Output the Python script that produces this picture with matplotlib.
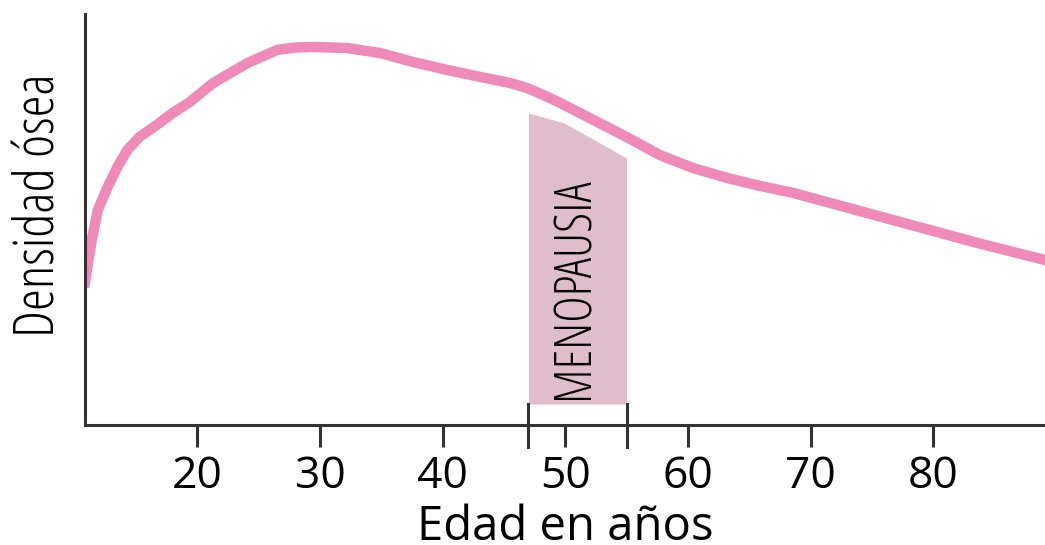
import matplotlib
matplotlib.use("Agg")
import matplotlib.pyplot as plt

# bone density curve (arbitrary units)
edad = [10.85, 11.4, 11.9, 12.7, 13.5, 14.3, 15.3, 16.7, 18.0, 19.4, 21.3,
        24.1, 26.5, 28.0, 29.5, 32.2, 34.9, 37.6, 40.4, 43.1, 45.5, 46.9, 48.2,
        49.6, 52.3, 55.0, 57.7, 60.4, 63.2, 65.9, 68.6, 76.7, 83.6, 89.1]
densidad = [143, 185, 215, 238, 258, 275, 288, 300, 312, 323, 342,
            362, 375, 377.5, 378, 377, 372, 363, 355, 348, 342, 337, 330,
            322, 305, 288, 270, 257, 247, 239, 232, 205, 182, 165]

# menopause band
meno_edad = [47.0, 49.9, 52.1, 55.0]
meno_top = [312, 302, 287, 267]
meno_base = 21

xticks = [20, 30, 40, 50, 60, 70, 80]

line_color = "#f08ab8"
band_color = "#e0bdcd"
axis_color = "#333333"
plain = ["Open Sans", "DejaVu Sans"]

fig = plt.figure(figsize=(10.45, 5.45), dpi=100)
ax = fig.add_axes([0.0813, 0.2202, 0.9187, 0.7541])

ax.fill_between(meno_edad, meno_base, meno_top, color=band_color, lw=0)
ax.plot(edad, densidad, color=line_color, lw=7.5, solid_joinstyle="round")

# the two marks bounding menopause, reaching below the axis
for x in (meno_edad[0], meno_edad[-1]):
    ax.plot([x, x], [meno_base, -22], color=axis_color, lw=2.2, clip_on=False)

ax.text(50.75, 425 - 288, "MENOPAUSIA", rotation=90, ha="center", va="center",
        fontsize=36.5, family="Open Sans", stretch="condensed", weight=300, color="black")

ax.set_xlim(10.85, 89.1)
ax.set_ylim(0, 411)

for side in ("top", "right"):
    ax.spines[side].set_visible(False)
for side in ("left", "bottom"):
    ax.spines[side].set_color(axis_color)
    ax.spines[side].set_linewidth(2.2)

ax.set_yticks([])
ax.set_xticks(xticks)
ax.set_xticklabels([str(t) for t in xticks], family=plain, fontsize=32)
ax.tick_params(axis="x", direction="out", length=16, width=2.2, color=axis_color, pad=5)

fig.text(565 / 1045, 1 - 540 / 545, "Edad en años", ha="center", va="baseline",
         family=plain, fontsize=34)
fig.text(40 / 1045, 1 - 205 / 545, "Densidad ósea", rotation=90, ha="center", va="center",
         fontsize=40, family="Open Sans", stretch="condensed", weight=300)

plt.savefig("out.png", dpi=100)
